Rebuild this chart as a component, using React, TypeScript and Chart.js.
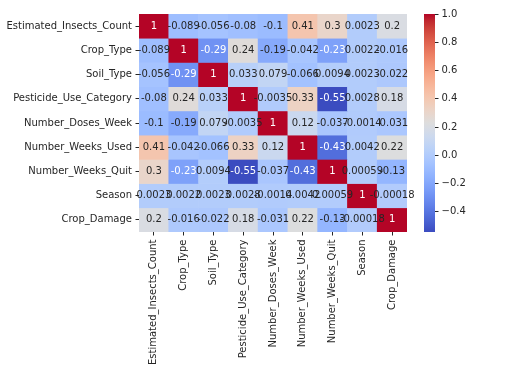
import React, { useEffect, useRef } from "react";
import { Chart, registerables } from "chart.js";

Chart.register(...registerables);

const labels = [
  "Estimated_Insects_Count",
  "Crop_Type",
  "Soil_Type",
  "Pesticide_Use_Category",
  "Number_Doses_Week",
  "Number_Weeks_Used",
  "Number_Weeks_Quit",
  "Season",
  "Crop_Damage",
];

const rowInsects = [1, -0.089, -0.056, -0.08, -0.1, 0.41, 0.3, 0.0023, 0.2];
const rowCropType = [-0.089, 1, -0.29, 0.24, -0.19, -0.042, -0.23, 0.0022, -0.016];
const rowSoilType = [-0.056, -0.29, 1, 0.033, 0.079, -0.066, 0.0094, 0.0023, -0.022];
const rowPesticide = [-0.08, 0.24, 0.033, 1, -0.0035, 0.33, -0.55, 0.0028, 0.18];
const rowDoses = [-0.1, -0.19, 0.079, -0.0035, 1, 0.12, -0.037, -0.0014, -0.031];
const rowWeeksUsed = [0.41, -0.042, -0.066, 0.33, 0.12, 1, -0.43, 0.0042, 0.22];
const rowWeeksQuit = [0.3, -0.23, 0.0094, -0.55, -0.037, -0.43, 1, 0.00059, -0.13];
const rowSeason = [0.0023, 0.0022, 0.0023, 0.0028, -0.0014, 0.0042, 0.00059, 1, -0.00018];
const rowCropDamage = [0.2, -0.016, -0.022, 0.18, -0.031, 0.22, -0.13, -0.00018, 1];

const matrix = [
  rowInsects,
  rowCropType,
  rowSoilType,
  rowPesticide,
  rowDoses,
  rowWeeksUsed,
  rowWeeksQuit,
  rowSeason,
  rowCropDamage,
];

const vmin = -0.55;
const vmax = 1;
const cbTicks = [-0.4, -0.2, 0, 0.2, 0.4, 0.6, 0.8, 1.0];

// coolwarm colormap samples (33 points)
const CW: number[][] = [
  [59, 76, 192], [68, 90, 204], [77, 104, 215], [87, 117, 225], [98, 130, 234],
  [108, 142, 241], [119, 154, 247], [130, 165, 251], [141, 176, 254], [152, 185, 255],
  [163, 194, 255], [174, 201, 253], [184, 208, 249], [194, 213, 244], [204, 217, 238],
  [213, 219, 230], [221, 221, 221], [229, 216, 209], [236, 211, 197], [241, 204, 184],
  [245, 196, 172], [247, 187, 160], [247, 177, 148], [247, 166, 135], [244, 154, 123],
  [241, 141, 111], [236, 127, 99], [229, 112, 89], [222, 96, 77], [213, 80, 66],
  [203, 62, 56], [192, 40, 47], [180, 4, 38],
];

function cwRGB(t: number): number[] {
  t = Math.max(0, Math.min(1, t));
  const p = t * (CW.length - 1);
  const i = Math.min(CW.length - 2, Math.floor(p));
  const f = p - i;
  const a = CW[i], b = CW[i + 1];
  return [0, 1, 2].map((k) => a[k] + (b[k] - a[k]) * f);
}
function rgbStr(c: number[]) {
  return `rgb(${Math.round(c[0])},${Math.round(c[1])},${Math.round(c[2])})`;
}
function valueColor(v: number) {
  return rgbStr(cwRGB((v - vmin) / (vmax - vmin)));
}
function luminance(c: number[]) {
  const lin = c.map((x) => {
    const s = x / 255;
    return s <= 0.03928 ? s / 12.92 : Math.pow((s + 0.055) / 1.055, 2.4);
  });
  return 0.2126 * lin[0] + 0.7152 * lin[1] + 0.0722 * lin[2];
}

const FONT = "DejaVu Sans";
const TXT = "#262626";

const annotatePlugin = {
  id: "annotate",
  afterDatasetsDraw(chart: any) {
    const ctx = chart.ctx;
    const xs = chart.scales.x;
    const ys = chart.scales.y;
    ctx.save();
    ctx.font = `10px "${FONT}"`;
    ctx.textAlign = "center";
    ctx.textBaseline = "middle";
    matrix.forEach((row, r) => {
      row.forEach((v, c) => {
        const col = cwRGB((v - vmin) / (vmax - vmin));
        ctx.fillStyle = luminance(col) > 0.408 ? TXT : "#ffffff";
        ctx.fillText(String(v), xs.getPixelForValue(c), ys.getPixelForValue(r + 0.5));
      });
    });
    ctx.restore();
  },
};

const colorbarPlugin = {
  id: "colorbar",
  afterDraw(chart: any) {
    const ctx = chart.ctx;
    const { top, bottom } = chart.chartArea;
    const x0 = 424;
    const w = 11;
    const toY = (v: number) => bottom - ((v - vmin) / (vmax - vmin)) * (bottom - top);
    ctx.save();
    const grad = ctx.createLinearGradient(0, bottom, 0, top);
    CW.forEach((c, i) => grad.addColorStop(i / (CW.length - 1), rgbStr(c)));
    ctx.fillStyle = grad;
    ctx.fillRect(x0, top, w, bottom - top);
    ctx.strokeStyle = TXT;
    ctx.lineWidth = 1;
    ctx.fillStyle = TXT;
    ctx.font = `10px "${FONT}"`;
    ctx.textAlign = "left";
    ctx.textBaseline = "middle";
    cbTicks.forEach((t) => {
      const y = Math.round(toY(t)) + 0.5;
      ctx.beginPath();
      ctx.moveTo(x0 + w, y);
      ctx.lineTo(x0 + w + 3.5, y);
      ctx.stroke();
      const lab = t.toFixed(1).replace("-", "\u2212");
      ctx.fillText(lab, x0 + w + 6.5, y);
    });
    ctx.restore();
  },
};

export default function App() {
  const ref = useRef<HTMLCanvasElement | null>(null);
  useEffect(() => {
    if (!ref.current) return;
    const datasets = matrix.map((row, r) => ({
      label: labels[r],
      data: row.map(() => [r, r + 1]),
      backgroundColor: row.map((v) => valueColor(v)),
      borderWidth: 0,
      barPercentage: 1,
      categoryPercentage: 1,
    }));
    const chart = new Chart(ref.current, {
      type: "bar",
      data: { labels, datasets: datasets as any },
      options: {
        animation: false,
        responsive: false,
        maintainAspectRatio: false,
        layout: { padding: { top: 14, right: 100, left: 0, bottom: 0 } },
        plugins: { legend: { display: false }, tooltip: { enabled: false } },
        scales: {
          x: {
            type: "category",
            stacked: true,
            grid: {
              display: true,
              offset: false,
              drawOnChartArea: false,
              drawTicks: true,
              tickLength: 3.5,
              color: TXT,
            },
            border: { display: false },
            ticks: {
              autoSkip: false,
              minRotation: 90,
              maxRotation: 90,
              padding: 4,
              color: TXT,
              font: { family: FONT, size: 10 },
            },
            afterFit: (s: any) => {
              s.height = 140;
            },
          },
          y: {
            type: "linear",
            min: 0,
            max: 9,
            reverse: true,
            stacked: false,
            grid: {
              display: true,
              drawOnChartArea: false,
              drawTicks: true,
              tickLength: 3.5,
              color: TXT,
            },
            border: { display: false },
            afterBuildTicks: (axis: any) => {
              axis.ticks = labels.map((_, i) => ({ value: i + 0.5 }));
            },
            ticks: {
              autoSkip: false,
              padding: 3.5,
              color: TXT,
              font: { family: FONT, size: 10 },
              callback: (v: any) => labels[Math.floor(Number(v))],
            },
            afterFit: (s: any) => {
              s.width = 139;
            },
          },
        },
      },
      plugins: [annotatePlugin, colorbarPlugin],
    });
    return () => chart.destroy();
  }, []);
  return (
    <div style={{ position: "fixed", left: 0, top: 0, width: 507, height: 372, background: "#fff" }}>
      <canvas ref={ref} width={507} height={372} style={{ display: "block" }} />
    </div>
  );
}
